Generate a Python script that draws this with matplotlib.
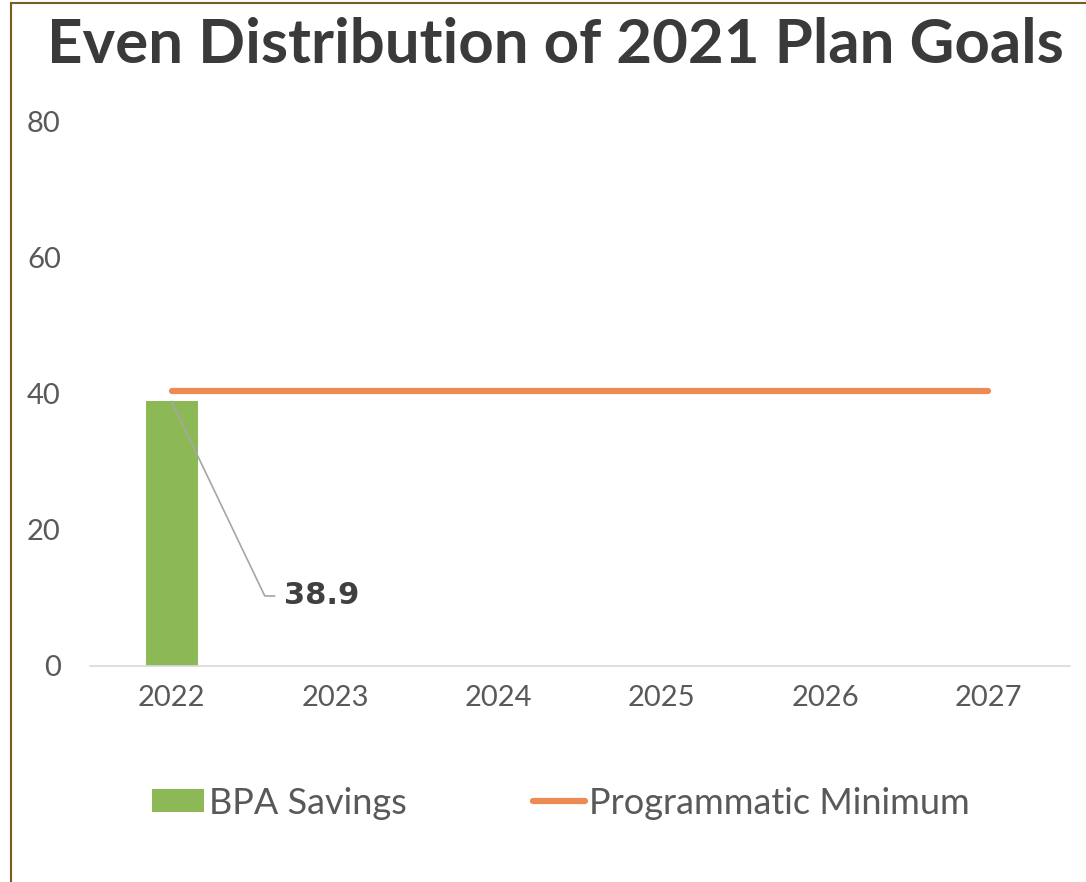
import matplotlib.pyplot as plt
from matplotlib.lines import Line2D
import numpy as np

years = ["2022", "2023", "2024", "2025", "2026", "2027"]
bpa_savings = [38.9]
programmatic_min = [40.5, 40.5, 40.5, 40.5, 40.5, 40.5]
y_ticks = [0, 20, 40, 60, 80]

GREEN = "#8cb955"
ORANGE = "#ed8b55"
TEXT = "#595959"

plt.rcParams["font.family"] = ["Lato", "DejaVu Sans"]

fig = plt.figure(figsize=(10.86, 8.82), dpi=100)
ax = fig.add_axes([90 / 1086, 1 - 666 / 882, 980 / 1086, (666 - 122) / 882])

x = np.arange(len(years))
bars = ax.bar(x[: len(bpa_savings)], bpa_savings, width=0.32, color=GREEN, zorder=2,
              label="BPA Savings")
line, = ax.plot(x, programmatic_min, color=ORANGE, linewidth=4.5,
                solid_capstyle="round", zorder=3, label="Programmatic Minimum")

# data label with leader line
ax.plot([0, 0.57, 0.63], [bpa_savings[0], 10.3, 10.3], color="#a6a6a6",
        linewidth=1.2, zorder=4)
ax.text(0.69, 10.3, f"{bpa_savings[0]:.1f}", fontsize=22, fontweight="bold",
        family="DejaVu Sans", color="#404040", va="center", ha="left")

ax.set_xlim(-0.5, len(years) - 0.5)
ax.set_ylim(0, 80)
ax.set_xticks(x)
ax.set_xticklabels(years)
ax.set_yticks(y_ticks)
ax.tick_params(length=0, labelsize=21, labelcolor=TEXT)
ax.tick_params(axis="x", pad=14)
ax.tick_params(axis="y", pad=21)
for s in ["top", "right", "left"]:
    ax.spines[s].set_visible(False)
ax.spines["bottom"].set_color("#d9d9d9")
ax.spines["bottom"].set_linewidth(1.2)

ax.legend([bars, line], ["BPA Savings", "Programmatic Minimum"],
          loc="center", bbox_to_anchor=(561 / 1086, 1 - 803 / 882),
          bbox_transform=fig.transFigure, ncol=2, frameon=False, fontsize=26,
          labelcolor=TEXT, handlelength=1.45, handleheight=0.6,
          handletextpad=0.12, columnspacing=3.5)

fig.text(555 / 1086, 1 - 45 / 882, "Even Distribution of 2021 Plan Goals",
         fontsize=44.5, fontweight="bold", color="#3a3a3a", ha="center", va="center")

# outer border (left and top)
brown = "#7a5c1e"
fig.add_artist(Line2D([11 / 1086, 11 / 1086], [0, 1 - 3 / 882], color=brown,
                      linewidth=1.5, transform=fig.transFigure))
fig.add_artist(Line2D([11 / 1086, 1], [1 - 3 / 882, 1 - 3 / 882], color=brown,
                      linewidth=1.5, transform=fig.transFigure))

fig.savefig("out.png", dpi=100)
